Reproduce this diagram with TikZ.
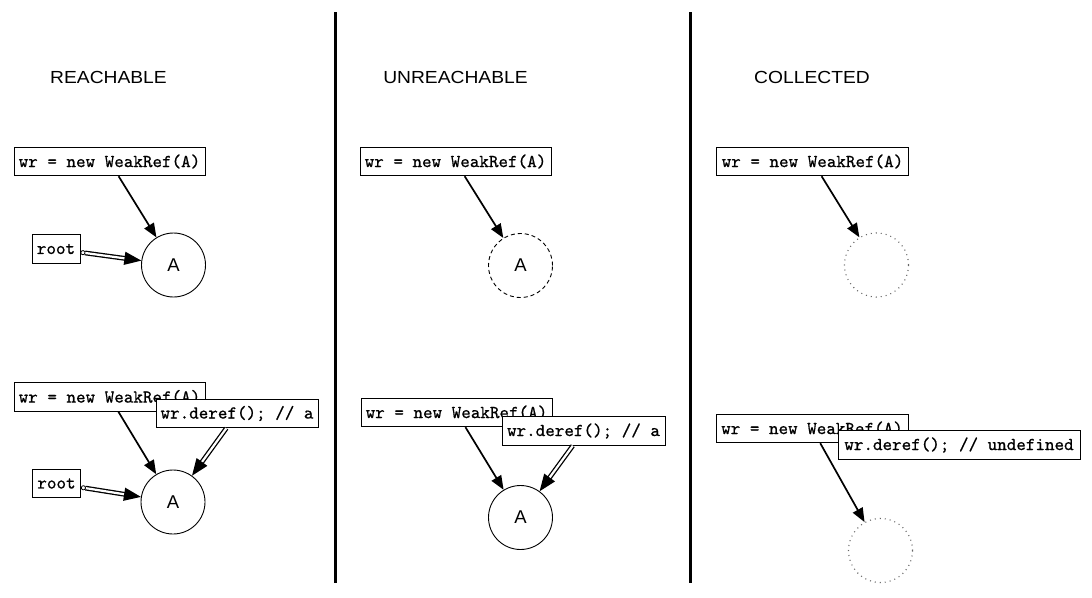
\documentclass[tikz,border=0pt]{standalone}
\usepackage{fontspec}
\setmainfont{Liberation Sans}
\newfontfamily\codefont{lmmono10-regular.otf}[FakeBold=0.7]
\usetikzlibrary{arrows.meta}
\begin{document}
\begin{tikzpicture}[x=1pt,y=-1pt,
  codebox/.style={draw,line width=0.9pt,fill=white,inner sep=0pt,minimum height=28.5pt,font=\codefont\fontsize{18.2}{20}\selectfont},
  wrbox/.style={codebox,minimum width=191pt},
  rootbox/.style={codebox,minimum width=48pt},
  objcirc/.style={circle,draw,line width=0.9pt,minimum size=64pt,inner sep=0pt,font=\fontsize{18.5}{20}\selectfont},
  gonecirc/.style={objcirc,draw=black!60,line width=1.1pt,dash pattern=on 1pt off 4pt},
  weakcirc/.style={objcirc,dash pattern=on 4pt off 3pt},
  title/.style={font=\fontsize{17.5}{20}\selectfont},
  weakarrow/.style={line width=1.7pt,-{Triangle[length=14pt,width=11pt]}},
  strongarrow/.style={double=white,double distance=2.2pt,line width=1.3pt,-{Triangle[length=17pt,width=13pt]}},
  rootarrow/.style={strongarrow,{Circle[open,length=5pt,width=5pt,line width=0.8pt]}-{Triangle[length=17pt,width=13pt]}},
  divider/.style={line width=3pt}
]
\useasboundingbox (0,0) rectangle (1092,597);

% dividers
\coordinate (d1t) at (335.5,12); \coordinate (d1b) at (335.5,583);
\coordinate (d2t) at (690.5,12); \coordinate (d2b) at (690.5,583);
\draw[divider] (d1t) -- (d1b);
\draw[divider] (d2t) -- (d2b);

% titles
\node[title] (t1) at (108.5,77) {\scalebox{1.1}[1]{REACHABLE}};
\node[title] (t2) at (455.5,77) {\scalebox{1.1}[1]{UNREACHABLE}};
\node[title] (t3) at (812,77) {\scalebox{1.1}[1]{COLLECTED}};

% ---------- panel 1 ----------
\node[wrbox] (wr1) at (109.5,161.5) {wr = new WeakRef(A)};
\node[rootbox] (root1) at (56,249) {root};
\node[objcirc] (A1) at (173.5,265) {A};
\draw[weakarrow] (wr1) -- (A1);
\draw[rootarrow] (root1) -- (A1);

\node[wrbox] (wr2) at (109.5,397) {wr = new WeakRef(A)};
\node[codebox,minimum width=162pt] (der2) at (237,413.5) {wr.deref(); // a};
\node[rootbox] (root2) at (56.5,483.5) {root};
\node[objcirc] (A2) at (173,502) {A};
\draw[weakarrow] (wr2) -- (A2);
\draw[strongarrow] (der2) -- (A2);
\draw[rootarrow] (root2) -- (A2);

% ---------- panel 2 ----------
\node[wrbox] (wr3) at (455.5,161.5) {wr = new WeakRef(A)};
\node[weakcirc] (A3) at (520.5,265.5) {A};
\draw[weakarrow] (wr3) -- (A3);

\node[wrbox] (wr4) at (456.5,412.5) {wr = new WeakRef(A)};
\node[codebox,minimum width=163pt] (der4) at (583.5,431) {wr.deref(); // a};
\node[objcirc] (A4) at (520.5,517.5) {A};
\draw[weakarrow] (wr4) -- (A4);
\draw[strongarrow] (der4) -- (A4);

% ---------- panel 3 ----------
\node[wrbox,minimum width=192pt] (wr5) at (812.5,161.5) {wr = new WeakRef(A)};
\node[gonecirc] (A5) at (876.5,265) {};
\draw[weakarrow] (wr5) -- (A5);

\node[wrbox,minimum width=192pt] (wr6) at (812,428.5) {wr = new WeakRef(A)};
\node[codebox,minimum width=242pt] (der6) at (959,445) {wr.deref(); // undefined};
\node[gonecirc] (A6) at (880.5,550.5) {};
\draw[weakarrow] (wr6) -- (A6);
\end{tikzpicture}
\end{document}
